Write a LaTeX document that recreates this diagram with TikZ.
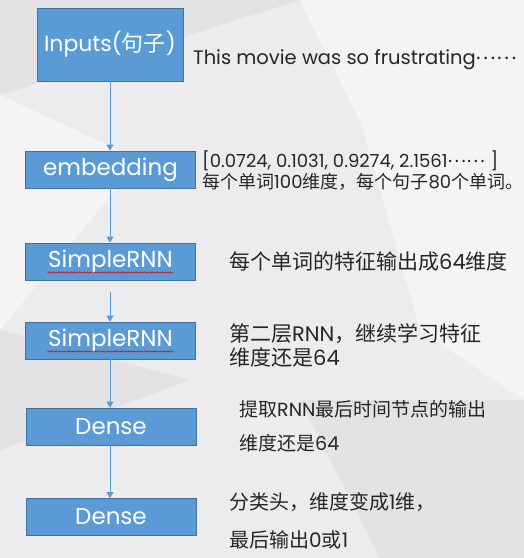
\documentclass[tikz,border=0pt]{standalone}
\usepackage{fontspec}
\setmainfont{Poppins}
\newfontfamily\cjk{Noto Sans CJK SC}
\usetikzlibrary{arrows.meta,decorations.pathmorphing}
\definecolor{boxblue}{HTML}{5B9BD5}
\definecolor{boxedge}{HTML}{41719C}
\definecolor{bgbase}{HTML}{ECECEE}
\definecolor{bglight}{HTML}{F4F4F5}
\definecolor{bgdark}{HTML}{E3E3E5}
\newcommand\zh[1]{{\cjk #1}}
\newcommand\dotsz{\raisebox{0.28em}{\zh{……}}}
\tikzset{
  layer/.style={draw=boxedge, fill=boxblue, text=white, line width=0.8pt, inner sep=0pt,
    minimum width=170pt, minimum height=37pt, font=\fontsize{23}{27}\selectfont},
  flow/.style={draw=boxblue, line width=0.9pt, -{Triangle[width=7pt,length=6pt]}},
  note/.style={anchor=west, inner sep=0pt, text=black!85, align=left, font=\fontsize{20}{24}\selectfont},
}

\begin{document}
\begin{tikzpicture}[x=1pt,y=-1pt]
  \useasboundingbox (0,0) rectangle (524,558);
  % background
  \fill[bgbase] (0,0) rectangle (524,558);
  \fill[bgdark] (0,0) -- (300,0) -- (0,95) -- cycle;
  \fill[bglight] (300,0) -- (524,0) -- (524,230) -- (360,120) -- cycle;
  \fill[bglight] (0,95) -- (140,160) -- (0,330) -- cycle;
  \fill[bgdark] (0,330) -- (190,380) -- (0,450) -- cycle;
  \fill[bglight] (360,120) -- (524,230) -- (524,400) -- (420,330) -- cycle;
  \fill[bgdark] (300,400) -- (524,400) -- (524,558) -- (380,558) -- cycle;

  % layers
  \node[layer, minimum width=146pt, minimum height=73pt, font=\fontsize{22}{26}\selectfont] (inputs) at (110,44.5) {Inputs(\zh{句子})};
  \node[layer] (embed) at (110.5,169.5) {embedding};
  \node[layer] (rnnA) at (110.5,261.5) {SimpleRNN};
  \node[layer] (rnnB) at (110.5,340.5) {SimpleRNN};
  \node[layer] (denseA) at (111,426.5) {Dense};
  \node[layer] (denseB) at (111,517) {Dense};

  % spell-check marks
  \draw[red!85!black, line width=0.5pt, decorate, decoration={snake, amplitude=0.7pt, segment length=2.6pt}]
    ([xshift=-63pt,yshift=-11pt]rnnA.center) -- ([xshift=63pt,yshift=-11pt]rnnA.center);
  \draw[red!85!black, line width=0.5pt, decorate, decoration={snake, amplitude=0.7pt, segment length=2.6pt}]
    ([xshift=-63pt,yshift=-11pt]rnnB.center) -- ([xshift=63pt,yshift=-11pt]rnnB.center);

  % arrows
  \draw[flow] (inputs) -- (inputs |- embed.north);
  \draw[flow] (embed.south -| inputs) -- (inputs |- rnnA.north);
  \draw[flow, shorten <=12pt] (rnnA.south -| inputs) -- (inputs |- rnnB.north);
  \draw[flow] (rnnB.south -| inputs) -- (inputs |- denseA.north);
  \draw[flow] (denseA.south -| inputs) -- (inputs |- denseB.north);

  % notes
  \node[note, font=\fontsize{19.5}{23}\selectfont] (inNote) at (193,60) {This movie was so frustrating\dotsz};
  \node[note, font=\fontsize{18}{21}\selectfont] (embNote) at (202,170.5)
    {[0.0724, 0.1031, 0.9274, 2.1561\dotsz{} ]\\ \zh{每个单词}100\zh{维度，每个句子}80\zh{个单词。}};
  \node[note, font=\fontsize{21}{25}\selectfont] (rnnANote) at (229,262) {\zh{每个单词的特征输出成}64\zh{维度}};
  \node[note, font=\fontsize{21}{24}\selectfont] (rnnBNote) at (229,345) {\zh{第二层}RNN\zh{，继续学习特征}\\ \zh{维度还是}64};
  \node[note, font=\fontsize{19}{34}\selectfont] (denseANote) at (239,426) {\zh{提取}RNN\zh{最后时间节点的输出}\\ \zh{维度还是}64};
  \node[note, font=\fontsize{20}{38}\selectfont] (denseBNote) at (229,521) {\zh{分类头，维度变成}1\zh{维，}\\ \zh{最后输出}0\zh{或}1};
\end{tikzpicture}
\end{document}
